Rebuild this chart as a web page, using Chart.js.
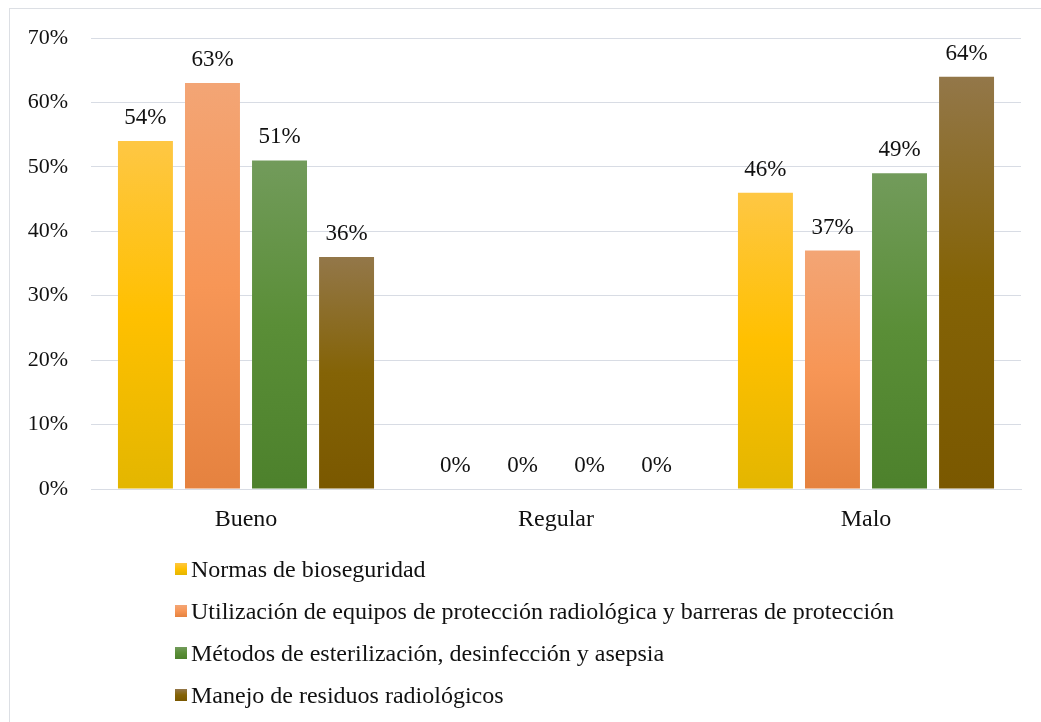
<!DOCTYPE html>
<html lang="es">
<head>
<meta charset="utf-8">
<title>Bioseguridad</title>
<script src="https://cdn.jsdelivr.net/npm/chart.js@4.4.1/dist/chart.umd.min.js"></script>
<style>
  html, body { margin: 0; padding: 0; background: #fff; overflow: hidden; }
  #frame {
    position: absolute; left: 9px; top: 8px;
    width: 1100px; height: 800px;
    border: 1px solid #dcdfe4;
    background: #fff;
  }
  #chartBox { position: absolute; left: 0; top: 0; width: 1020px; height: 540px; }
  #legend {
    position: absolute; left: 165px; top: 539px;
    margin: 0; padding: 0; list-style: none;
    font-family: "Liberation Serif", "Times New Roman", serif;
    font-size: 24px; color: #111;
  }
  #legend li { height: 42px; line-height: 42px; display: flex; align-items: center; white-space: nowrap; }
  #legend .box { width: 12px; height: 12px; margin-right: 4px; flex: none; }
</style>
</head>
<body>
<div id="frame">
  <div id="chartBox"><canvas id="resultChart"></canvas></div>
  <ul id="legend"></ul>
</div>
<script>
const categories = ['Bueno', 'Regular', 'Malo'];

const normas = [54, 0, 46];
const equipos = [63, 0, 37];
const metodos = [51, 0, 49];
const residuos = [36, 0, 64];

const seriesNames = [
  'Normas de bioseguridad',
  'Utilización de equipos de protección radiológica y barreras de protección',
  'Métodos de esterilización, desinfección y asepsia',
  'Manejo de residuos radiológicos'
];

const yTicks = [0, 10, 20, 30, 40, 50, 60, 70];

// top / middle / bottom stops for each series fill
const fills = [
  ['#fec744', '#ffc000', '#e3b600'],
  ['#f3a575', '#f79656', '#e5823f'],
  ['#729b5b', '#5a8e37', '#4d812c'],
  ['#937749', '#846306', '#7a5800']
];

const serif = '"Liberation Serif", "Times New Roman", serif';
const gridColor = '#d8dce4';

function barFill(stops) {
  return function (ctx) {
    const chart = ctx.chart;
    if (!chart.chartArea || ctx.type !== 'data') return stops[1];
    const y = chart.scales.y;
    const top = y.getPixelForValue(ctx.raw);
    const bottom = y.getPixelForValue(0);
    if (bottom - top < 1) return stops[1];
    const g = chart.ctx.createLinearGradient(0, top, 0, bottom);
    g.addColorStop(0, stops[0]);
    g.addColorStop(0.5, stops[1]);
    g.addColorStop(1, stops[2]);
    return g;
  };
}

// value labels above each bar
const valueLabels = {
  id: 'valueLabels',
  afterDatasetsDraw(chart) {
    const ctx = chart.ctx;
    ctx.save();
    ctx.font = '23px ' + serif;
    ctx.fillStyle = '#111';
    ctx.textAlign = 'center';
    ctx.textBaseline = 'middle';
    chart.data.datasets.forEach((ds, i) => {
      chart.getDatasetMeta(i).data.forEach((bar, j) => {
        ctx.fillText(ds.data[j] + '%', bar.x, bar.y - 23);
      });
    });
    ctx.restore();
  }
};

const allSeries = [normas, equipos, metodos, residuos];

const chart = new Chart(document.getElementById('resultChart'), {
  type: 'bar',
  data: {
    labels: categories,
    datasets: allSeries.map((vals, i) => ({
      label: seriesNames[i],
      data: vals,
      backgroundColor: barFill(fills[i]),
      borderWidth: 0,
      categoryPercentage: 0.865,
      barPercentage: 0.82
    }))
  },
  options: {
    responsive: true,
    maintainAspectRatio: false,
    animation: false,
    layout: { padding: { top: 29, right: 9, bottom: 0, left: 0 } },
    plugins: {
      legend: { display: false },
      tooltip: { enabled: false }
    },
    scales: {
      x: {
        grid: { display: false, drawTicks: false },
        border: { color: gridColor, width: 1 },
        ticks: { color: '#111', font: { family: serif, size: 24 }, padding: 16 },
        afterFit(scale) {
          scale.height = 60;
          scale.paddingLeft = 0;
          scale.paddingRight = 0;
        }
      },
      y: {
        min: 0,
        max: 70,
        afterBuildTicks(scale) { scale.ticks = yTicks.map(v => ({ value: v })); },
        grid: { color: gridColor, lineWidth: 1, drawTicks: false },
        border: { display: false },
        ticks: {
          color: '#111',
          font: { family: serif, size: 22 },
          padding: 23,
          callback: v => v + '%'
        },
        afterFit(scale) {
          scale.width = 81;
          scale.paddingTop = 0;
          scale.paddingBottom = 0;
        }
      }
    }
  },
  plugins: [valueLabels]
});

// legend list, one row per series
const legend = document.getElementById('legend');
chart.data.datasets.forEach((ds, i) => {
  const li = document.createElement('li');
  const box = document.createElement('span');
  box.className = 'box';
  box.style.background = 'linear-gradient(to bottom, ' + fills[i].join(', ') + ')';
  li.appendChild(box);
  li.appendChild(document.createTextNode(ds.label));
  legend.appendChild(li);
});
</script>
</body>
</html>
